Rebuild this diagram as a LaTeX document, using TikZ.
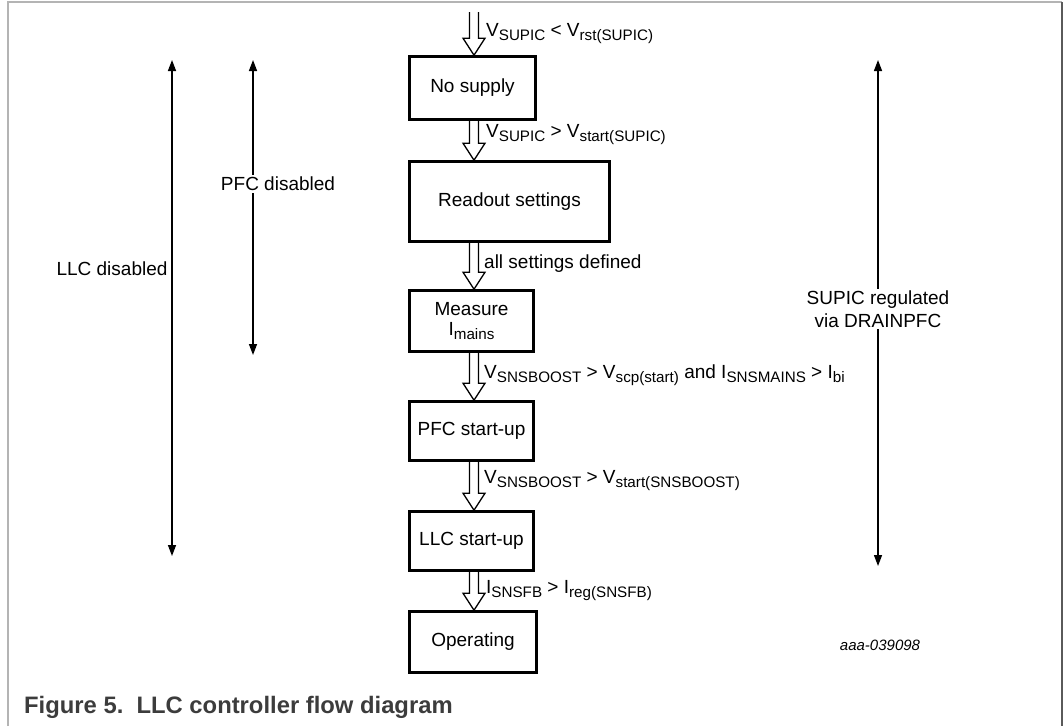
\documentclass[tikz,border=0pt]{standalone}
\usepackage{fontspec}
\setmainfont{Liberation Sans}
\usetikzlibrary{arrows.meta,calc}
\definecolor{framelight}{HTML}{B4B4B4}
\definecolor{framedark}{HTML}{5A5A5A}
\definecolor{capgray}{HTML}{3C3C3C}
\newcommand\sbs[1]{\raisebox{-4.2pt}{\fontsize{15.2}{16}\selectfont #1}}
\tikzset{
  box/.style={draw, line width=2.6pt, inner sep=0pt, align=center, font=\fontsize{19}{22}\selectfont},
  lbl/.style={anchor=base west, inner sep=0pt, font=\fontsize{19}{22}\selectfont},
  harrow/.style={draw, line width=1.3pt, line join=miter},
  spanarrow/.style={line width=1.4pt, {Triangle[width=8pt,length=11pt]}-{Triangle[width=8pt,length=11pt]}},
  side/.style={fill=white, inner sep=2pt, align=center, font=\fontsize{19}{23}\selectfont},
}
\newcommand\hollowarrow[2]{%
  \draw[harrow] let \p0=(ax), \p1=(#1), \p2=(#2) in
  (\x0-4.5pt,\y1) -- (\x0-4.5pt,\y2+17pt) -- (\x0-11pt,\y2+17pt) -- (\x0,\y2)
  -- (\x0+11pt,\y2+17pt) -- (\x0+4.5pt,\y2+17pt) -- (\x0+4.5pt,\y1);}
\begin{document}
\begin{tikzpicture}[x=1pt,y=-1pt]
\useasboundingbox (0,0) rectangle (1064,726);
% frame
\draw[framelight, line width=2pt] (8,726) -- (8,2) -- (1062,2);
\draw[framedark, line width=2pt] (1062,2) -- (1062,726);

\coordinate (ax) at (474,0);
\coordinate (topin) at (474,12);

% boxes
\node[box, minimum width=126pt, minimum height=63pt] (nosup) at (472.5,88) {No supply};
\node[box, minimum width=200pt, minimum height=80pt] (readout) at (509.5,201.5) {Readout settings};
\node[box, minimum width=124pt, minimum height=61pt] (measure) at (471.5,321) {Measure\\[-2pt]I\sbs{mains}};
\node[box, minimum width=124pt, minimum height=59pt] (pfc) at (471.5,431) {PFC start-up};
\node[box, minimum width=124pt, minimum height=59pt] (llc) at (471.5,541) {LLC start-up};
\node[box, minimum width=127pt, minimum height=61pt] (oper) at (473,642) {Operating};

% hollow arrows
\hollowarrow{topin}{nosup.north}
\hollowarrow{nosup.south}{readout.north}
\hollowarrow{readout.south}{measure.north}
\hollowarrow{measure.south}{pfc.north}
\hollowarrow{pfc.south}{llc.north}
\hollowarrow{llc.south}{oper.north}

% transition labels
\node[lbl] (t1) at (486,36) {V\sbs{SUPIC} < V\sbs{rst(SUPIC)}};
\node[lbl] (t2) at (486,137) {V\sbs{SUPIC} > V\sbs{start(SUPIC)}};
\node[lbl] (t3) at (484,268) {all settings defined};
\node[lbl] (t4) at (484,378) {V\sbs{SNSBOOST} > V\sbs{scp(start)} and I\sbs{SNSMAINS} > I\sbs{bi}};
\node[lbl] (t5) at (484,483) {V\sbs{SNSBOOST} > V\sbs{start(SNSBOOST)}};
\node[lbl] (t6) at (486,593) {I\sbs{SNSFB} > I\sbs{reg(SNSFB)}};

% span arrows
\coordinate (llcT) at (172,60);
\coordinate (llcB) at (172,556);
\draw[spanarrow] (llcT) -- (llcB);
\node[side, fill=none] (llclbl) at (112,269) {LLC disabled};

\coordinate (pfcT) at (253,60);
\coordinate (pfcB) at (253,355);
\draw[spanarrow] (pfcT) -- (pfcB);
\node[side] (pfclbl) at (278,184) {PFC disabled};

\coordinate (supT) at (878,60);
\coordinate (supB) at (878,566);
\draw[spanarrow] (supT) -- (supB);
\node[side] (suplbl) at (878,309) {SUPIC regulated\\via DRAINPFC};

% reference and caption
\node[font=\itshape\fontsize{15}{17}\selectfont, inner sep=0pt] (ref) at (880,645) {aaa-039098};
\node[anchor=base west, inner sep=0pt, text=capgray, font=\bfseries\fontsize{23.8}{26}\selectfont] (cap) at (24,713) {Figure 5.\ \ LLC controller flow diagram};
\end{tikzpicture}
\end{document}
